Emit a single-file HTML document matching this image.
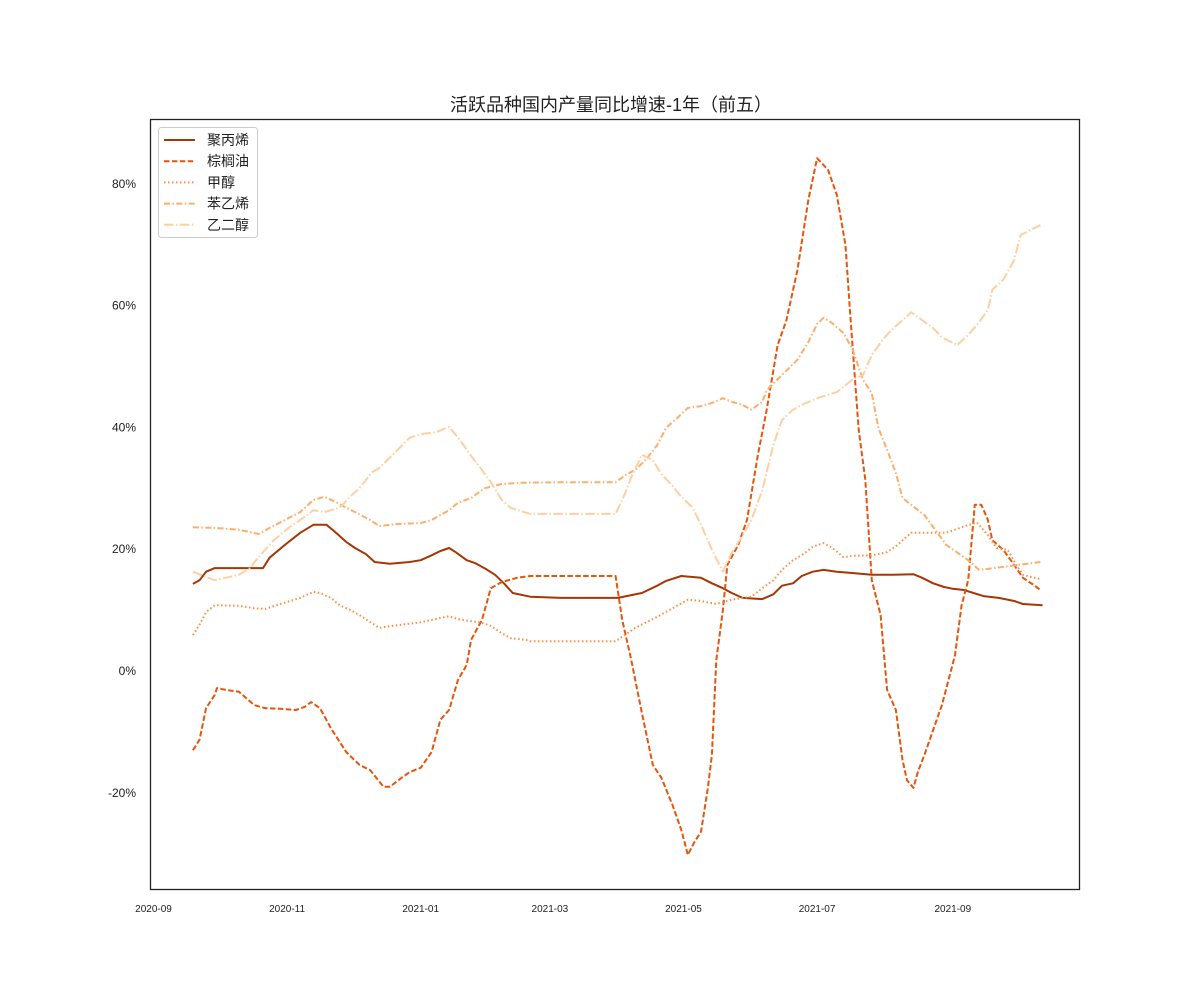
<!DOCTYPE html>
<html><head><meta charset="utf-8"><style>
body{margin:0;background:#fff;}
svg text{font-family:"Liberation Sans","Noto Sans CJK SC",sans-serif;}
</style></head><body>
<svg id="chart" width="1200" height="1000" xmlns="http://www.w3.org/2000/svg">
<rect x="0" y="0" width="1200" height="1000" fill="#fff"/>
<text x="611" y="111" font-size="18" text-anchor="middle" fill="#222">活跃品种国内产量同比增速-1年（前五）</text>
<g id="plot"></g>
<rect x="150.5" y="119.5" width="929" height="770" fill="none" stroke="#222" stroke-width="1.3"/>
</svg>
<script>
// day offsets from 2020-09-01, values in %
const xTickLabels = ["2020-09","2020-11","2021-01","2021-03","2021-05","2021-07","2021-09"];
const xTickDays = [0,61,122,181,242,303,365];
const yTickValues = [-20,0,20,40,60,80];
const seriesNames = ["聚丙烯","棕榈油","甲醇","苯乙烯","乙二醇"];
const ppDays = [18,21,24,28,50,53,60,67,73,79,83,88,92,97,101,108,117,122,127,131,135,138,143,147,152,156,160,164,172,186,212,216,223,230,234,241,250,255,260,264,269,278,283,287,292,296,301,306,312,319,328,338,347,351,356,361,365,370,379,386,393,397,406];
const ppValues = [14.3,14.9,16.3,16.9,16.9,18.6,20.7,22.7,24.0,24.0,22.8,21.2,20.2,19.2,17.9,17.6,17.9,18.2,19.0,19.7,20.2,19.5,18.2,17.7,16.7,15.8,14.4,12.8,12.2,12.0,12.0,12.3,12.8,14.0,14.8,15.6,15.3,14.4,13.6,12.8,12.0,11.8,12.6,14.0,14.4,15.6,16.3,16.6,16.3,16.1,15.8,15.8,15.9,15.3,14.4,13.8,13.5,13.3,12.3,12.0,11.5,11.0,10.8];
const palmDays = [18,21,24,28,29,33,39,46,51,58,65,69,72,76,81,88,94,99,105,108,113,117,122,127,131,135,139,143,145,150,154,159,166,172,205,211,214,218,223,228,232,237,241,244,247,250,253,255,257,260,262,267,271,276,280,285,289,294,299,303,308,312,316,318,322,325,328,332,335,339,342,344,347,349,352,356,360,363,366,369,372,375,378,381,383,388,393,397,402,405];
const palmValues = [-13.0,-11.3,-6.1,-3.9,-2.8,-3.1,-3.4,-5.6,-6.1,-6.2,-6.4,-5.9,-5.1,-6.1,-9.4,-13.3,-15.4,-16.3,-19.0,-19.0,-17.6,-16.6,-15.9,-13.3,-8.0,-6.4,-1.5,1.0,5.1,8.4,13.6,14.6,15.3,15.6,15.6,15.6,8.4,2.1,-6.9,-15.4,-17.6,-22.0,-26.1,-30.2,-28.1,-26.4,-19.5,-13.8,1.8,10.0,17.4,20.7,24.8,35.5,42.9,53.5,57.6,65.8,77.3,84.2,82.3,78.2,69.9,59.3,39.6,31.4,14.9,9.2,-3.1,-6.4,-14.6,-17.9,-19.2,-16.6,-13.8,-9.7,-5.6,-1.5,2.6,10.8,14.9,27.3,27.3,24.8,21.5,19.9,17.4,15.3,14.1,13.3];
const methDays = [18,21,24,28,39,46,51,58,67,73,76,81,85,90,94,103,113,122,131,135,139,145,150,154,159,163,170,172,186,211,216,220,225,230,237,244,250,257,264,273,278,283,287,292,296,301,306,310,315,319,328,335,339,346,353,362,369,376,381,385,390,394,397,401,405];
const methValues = [5.9,7.6,9.7,10.8,10.7,10.3,10.2,11.0,12.0,13.0,12.8,12.0,10.8,10.0,9.2,7.1,7.6,8.0,8.7,9.0,8.5,8.2,7.9,7.4,6.2,5.4,5.1,4.9,4.9,4.9,6.1,7.1,8.0,8.9,10.3,11.7,11.5,11.0,11.7,12.2,13.6,14.9,16.6,18.2,19.0,20.4,21.0,20.2,18.7,18.9,19.0,19.5,20.5,22.7,22.7,22.7,23.6,24.4,22.3,20.2,19.9,17.4,15.8,15.4,15.1];
const styDays = [18,28,39,44,48,53,60,67,73,78,83,88,92,99,103,110,122,127,131,135,139,145,151,159,168,186,211,216,220,225,230,234,239,244,250,255,260,264,269,273,278,280,287,294,299,303,306,310,315,319,324,328,331,335,339,342,352,362,372,377,388,405];
const styValues = [23.6,23.5,23.2,22.8,22.5,23.5,24.8,26.1,28.1,28.6,27.8,26.8,26.1,24.8,23.8,24.1,24.3,24.8,25.6,26.4,27.6,28.4,30.0,30.7,30.9,31.0,31.0,32.3,33.0,34.8,37.1,39.9,41.5,43.2,43.5,44.0,44.8,44.2,43.7,42.9,44.2,46.1,48.6,51.1,54.0,57.0,58.0,57.1,55.5,53.0,47.8,45.6,39.9,36.3,32.5,28.4,25.6,20.7,18.2,16.6,17.1,17.9];
const egDays = [18,23,28,39,44,48,55,62,69,73,78,85,90,94,100,103,110,117,122,129,135,140,145,150,154,159,163,172,186,211,216,218,223,228,232,237,241,246,250,255,260,264,269,273,278,283,287,292,296,303,312,319,324,328,333,337,342,346,351,356,360,367,372,376,381,383,388,393,396,402,405];
const egValues = [16.3,15.6,14.9,15.8,16.9,18.7,21.5,23.6,25.3,26.4,26.1,26.8,28.7,30.0,32.7,33.3,35.8,38.3,38.9,39.2,40.1,37.9,35.3,33.0,31.0,28.1,26.8,25.8,25.8,25.8,29.7,31.7,35.5,34.6,32.3,30.4,28.6,26.9,24.0,19.9,16.3,19.4,22.3,24.8,29.7,37.1,41.2,42.9,43.7,44.8,45.8,47.8,48.6,51.9,54.4,56.0,57.6,58.9,57.6,56.3,54.8,53.5,55.2,56.8,59.3,62.6,64.2,67.5,71.6,72.7,73.2];

const NS="http://www.w3.org/2000/svg";
const plot=document.getElementById('plot');
function xScale(d){return 153.5+d*2.19;}
function yScale(v){return 671-v*6.09;}
function mk(tag,attrs){const e=document.createElementNS(NS,tag);for(const k in attrs)e.setAttribute(k,attrs[k]);plot.appendChild(e);return e;}

xTickLabels.forEach((lab,i)=>{
  const t=mk('text',{x:xScale(xTickDays[i]),y:912,'font-size':10,'text-anchor':'middle',fill:'#222'});
  
  
  t.textContent=lab;
});
yTickValues.forEach(v=>{
  const t=mk('text',{x:136,y:yScale(v)+4,'font-size':12,'text-anchor':'end',fill:'#222'});
  
  
  t.textContent=v+'%';
});

const colors=["#a63603","#e6550d","#fd8d3c","#fdae6b","#fdd0a2"];
const dashes=["","5.5,2.4","1.5,2.5","6,2.4,1.5,2.4","9.6,2.4,1.5,2.4"];
const allDays=[ppDays,palmDays,methDays,styDays,egDays];
const allVals=[ppValues,palmValues,methValues,styValues,egValues];
const lineNames=['line-polypropylene','line-palm-oil','line-methanol','line-styrene','line-ethylene-glycol'];
allDays.forEach((days,s)=>{
  const vals=allVals[s];
  const n=Math.min(days.length,vals.length);
  let d='';
  for(let i=0;i<n;i++){d+=(i?'L':'M')+xScale(days[i]).toFixed(1)+','+yScale(vals[i]).toFixed(1);}
  const p=mk('path',{d:d,fill:'none',stroke:colors[s],'stroke-width':2,'stroke-dasharray':dashes[s]||'none','stroke-linejoin':'round'});
  
  
});

// legend
const lg=mk('rect',{x:158.5,y:127.5,width:99,height:110,rx:3,fill:'#fff',stroke:'#ccc','stroke-width':1});


seriesNames.forEach((nm,i)=>{
  const y=140+i*21.2;
  const l=mk('line',{x1:164,x2:195,y1:y,y2:y,stroke:colors[i],'stroke-width':2,'stroke-dasharray':dashes[i]||'none'});
  
  
  const t=mk('text',{x:207,y:y+5,'font-size':14,fill:'#222'});
  
  
  t.textContent=nm;
});
</script>
</body></html>
